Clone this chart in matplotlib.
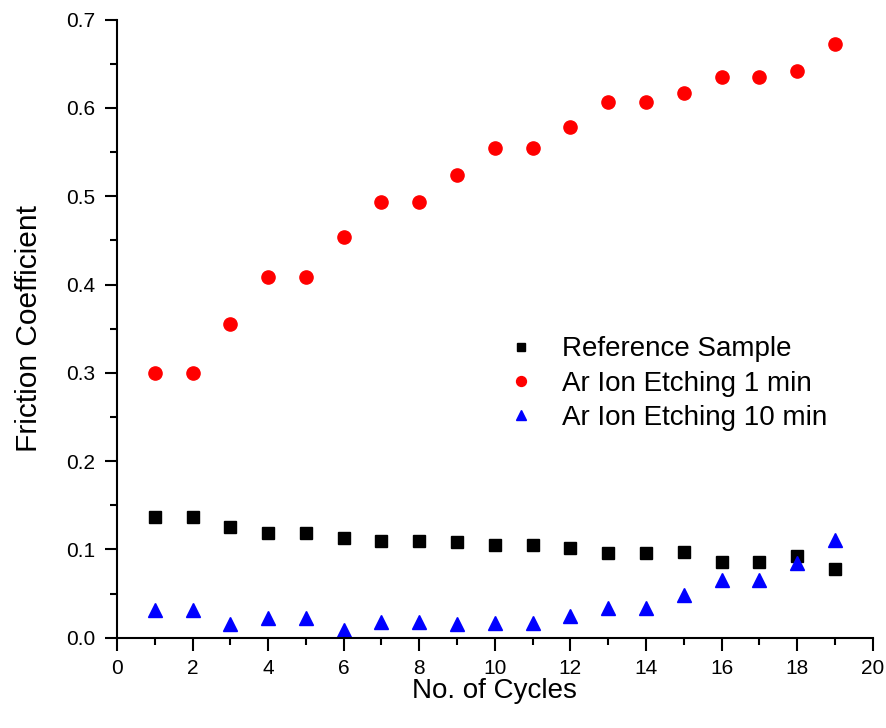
import matplotlib.pyplot as plt
from matplotlib.ticker import MultipleLocator

plt.rcParams['font.family'] = ['Liberation Sans', 'DejaVu Sans']

cycles = list(range(1, 20))
reference = [0.137, 0.137, 0.125, 0.119, 0.119, 0.113, 0.110, 0.110, 0.108, 0.105,
             0.105, 0.102, 0.096, 0.096, 0.097, 0.086, 0.086, 0.093, 0.078]
etch_1min = [0.300, 0.300, 0.355, 0.409, 0.409, 0.454, 0.494, 0.494, 0.524, 0.555,
             0.555, 0.578, 0.607, 0.607, 0.617, 0.635, 0.635, 0.642, 0.672]
etch_10min = [0.031, 0.031, 0.016, 0.022, 0.022, 0.009, 0.018, 0.018, 0.016, 0.017,
              0.017, 0.025, 0.034, 0.034, 0.048, 0.065, 0.065, 0.085, 0.111]

fig = plt.figure(figsize=(8.86, 7.28), dpi=100)
ax = fig.add_axes([0.132, 0.124, 0.853, 0.849])

ax.plot(cycles, reference, 's', color='black', markersize=8.5, label='Reference Sample')
ax.plot(cycles, etch_1min, 'o', color='#ff0000', markersize=9.5, label='Ar Ion Etching 1 min')
ax.plot(cycles, etch_10min, '^', color='#0000ff', markersize=10, label='Ar Ion Etching 10 min')

ax.set_xlim(0, 20)
ax.set_ylim(0, 0.7)
ax.xaxis.set_major_locator(MultipleLocator(2))
ax.xaxis.set_minor_locator(MultipleLocator(1))
ax.yaxis.set_major_locator(MultipleLocator(0.1))
ax.yaxis.set_minor_locator(MultipleLocator(0.05))
ax.yaxis.set_major_formatter(plt.FormatStrFormatter('%.1f'))

for s in ['top', 'right']:
    ax.spines[s].set_visible(False)
for s in ['left', 'bottom']:
    ax.spines[s].set_linewidth(1.5)
ax.tick_params(which='major', direction='out', length=9, width=1.5, labelsize=15, pad=6.5)
ax.tick_params(which='minor', direction='out', length=5, width=1.5)

ax.set_xlabel('No. of Cycles', fontsize=20, labelpad=0)
ax.set_ylabel('Friction Coefficient', fontsize=21.5, labelpad=17)

ax.legend(loc='center left', bbox_to_anchor=(0.479, 0.411), frameon=False,
          fontsize=20, handletextpad=0.9, labelspacing=0.3, markerscale=0.75,
          handlelength=1.2)

fig.savefig('out.png', dpi=100)
